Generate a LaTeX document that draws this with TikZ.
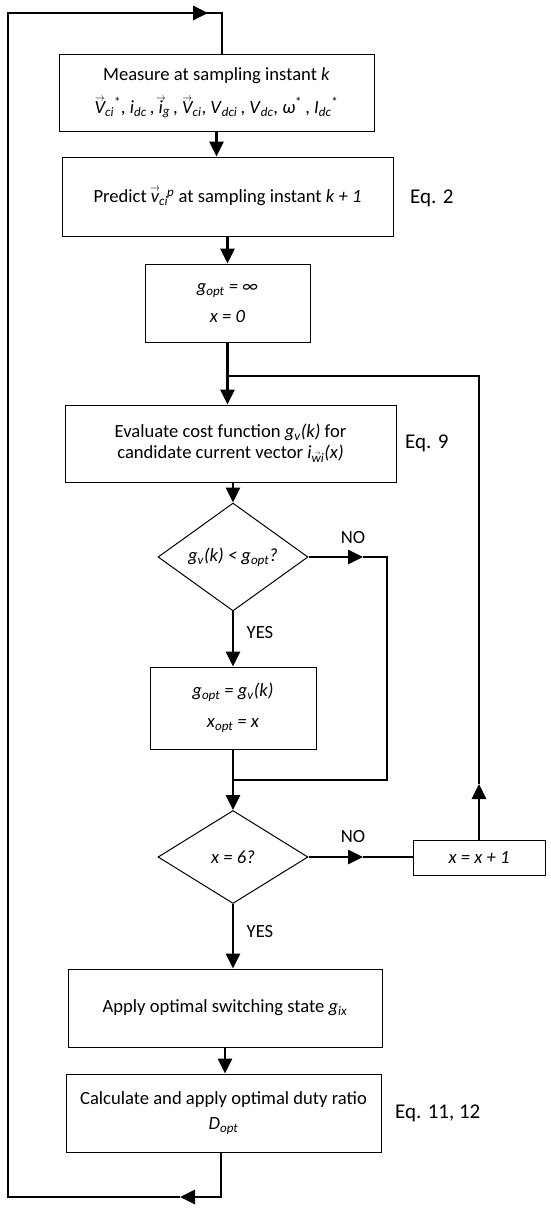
\documentclass[tikz,border=0pt]{standalone}
\usepackage{fontspec}
\setmainfont{Carlito}
\usetikzlibrary{arrows.meta,shapes.geometric}
\newcommand{\sbs}[1]{\textsubscript{\itshape #1}}
\newcommand{\sps}[1]{\textsuperscript{#1}}
\newcommand{\vecit}[1]{{\leavevmode\setbox0\hbox{\itshape #1}\rlap{\hbox to\wd0{\hss\raisebox{0.62em}{\scalebox{0.55}[0.7]{$\rightarrow$}}\hss}}\box0}}
\newcommand{\vecsub}[1]{\textsubscript{\setbox0\hbox{\itshape #1}\rlap{\hbox to\wd0{\hss\raisebox{0.55em}{\scalebox{0.5}[0.7]{$\rightarrow$}}\hss}}\box0}}
\tikzset{
  box/.style={draw, line width=1pt, rectangle, inner sep=0pt, align=center, font=\fontsize{18.6}{22}\selectfont},
  dia/.style={draw, line width=1pt, diamond, inner sep=0pt, align=center, font=\fontsize{18.6}{22}\selectfont},
  eq/.style={font=\fontsize{21}{24}\selectfont, inner sep=0pt},
  lbl/.style={font=\fontsize{18.6}{22}\selectfont, inner sep=0pt},
  conn/.style={line width=2.8pt, line join=miter},
  arr/.style={conn, -{Triangle[length=15pt,width=14pt]}},
}
\begin{document}
\begin{tikzpicture}[x=1pt,y=-1pt]
\useasboundingbox[fill=white] (0,0) rectangle (550,1213);
% nodes
\node[box, minimum width=315, minimum height=77] (m) at (216.5,92.5)
  {Measure at sampling instant \textit{k}\\[11pt]
   \vecit{V}\sbs{ci}\sps{*}, \textit{i}\sbs{dc}\,, \vecit{i}\sbs{g}\,, \vecit{V}\sbs{ci}, \textit{V}\sbs{dci}\,, \textit{V}\sbs{dc}, \textit{ω}\sps{*}\,, \textit{I}\sbs{dc}\sps{*}};
\node[box, minimum width=331, minimum height=79] (p) at (227.5,196.5)
  {Predict \vecit{v}\sbs{ci}\kern-0.05em\sps{\itshape p} at sampling instant \textit{k + 1}};
\node[box, minimum width=165, minimum height=78] (i) at (227.5,303)
  {\textit{g}\sbs{opt}\textit{ = ∞}\\[8pt]\textit{x = 0}};
\node[box, minimum width=331, minimum height=77, font=\fontsize{18.6}{21}\selectfont] (e) at (230.5,443.5)
  {Evaluate cost function \textit{g}\sbs{v}\textit{(k)} for\\
   candidate current vector \textit{i}\vecsub{wi}\textit{(x)}};
\node[dia, minimum width=150, minimum height=92] (d1) at (233,557)
  {\textit{g}\sbs{v}\textit{(k) < g}\sbs{opt}\textit{?}};
\node[box, minimum width=166, minimum height=82] (u) at (233,708)
  {\textit{g}\sbs{opt}\textit{ = g}\sbs{v}\textit{(k)}\\[9pt]\textit{x}\sbs{opt}\textit{ = x}};
\node[dia, minimum width=150, minimum height=93] (d2) at (233,857)
  {\textit{x = 6?}};
\node[box, minimum width=132, minimum height=35] (inc) at (479,857.5)
  {\textit{x = x + 1}};
\node[box, minimum width=314, minimum height=78] (a) at (225,1008)
  {Apply optimal switching state \textit{g}\sbs{ix}};
\node[box, minimum width=315, minimum height=78] (c) at (223.5,1113)
  {Calculate and apply optimal duty ratio\\[3pt]\textit{D}\sbs{opt}};
% equation labels
\node[eq, anchor=west] (eq2) at (410,198) {Eq. 2};
\node[eq, anchor=west] (eq9) at (405,443) {Eq. 9};
\node[eq, anchor=west] (eq11) at (395,1113) {Eq. 11, 12};
% branch labels
\node[lbl] (no1) at (353,538) {NO};
\node[lbl] (yes1) at (260,633) {YES};
\node[lbl] (no2) at (353,837) {NO};
\node[lbl] (yes2) at (260,932) {YES};
% coordinates
\coordinate (j0) at (228,376);
\coordinate (ra) at (479,376);
\coordinate (up) at (479,784);
\coordinate (n1) at (363,557);
\coordinate (r1) at (387,557);
\coordinate (r2) at (387,780);
\coordinate (j1) at (233,780);
\coordinate (n2) at (363,857);
\coordinate (bc) at (221,1197);
\coordinate (bl) at (180,1197);
\coordinate (lb) at (8,1197);
\coordinate (lt) at (8,13);
\coordinate (ta) at (208,13);
\coordinate (tc) at (222,13);
% connectors
\draw[arr] (m.south) -- (m.south |- p.north);
\draw[arr] (p.south) -- (i.north);
\draw[arr] (i.south) -- (i.south |- e.north);
\draw[conn] (j0) -- (ra) -- (up);
\draw[arr] (inc.north) -- (up);
\draw[arr] (d1.north |- e.south) -- (d1.north);
\draw[arr] (d1.south) -- (u.north);
\draw[arr] (d1.east) -- (n1);
\draw[conn] (n1) -- (r1) -- (r2) -- (j1);
\draw[conn] (u.south) -- (j1);
\draw[arr] (j1) -- (d2.north);
\draw[arr] (d2.east) -- (n2);
\draw[conn] (n2) -- (n2 -| inc.west);
\draw[arr] (d2.south) -- (d2.south |- a.north);
\draw[arr] (a.south) -- (a.south |- c.north);
\draw[arr] (c.south -| bc) -- (bc) -- (bl);
\draw[conn] (bl) -- (lb) -- (lt) -- (ta);
\draw[arr] (lt) -- (ta);
\draw[conn] (ta) -- (tc) -- (tc |- m.north);
\end{tikzpicture}
\end{document}
